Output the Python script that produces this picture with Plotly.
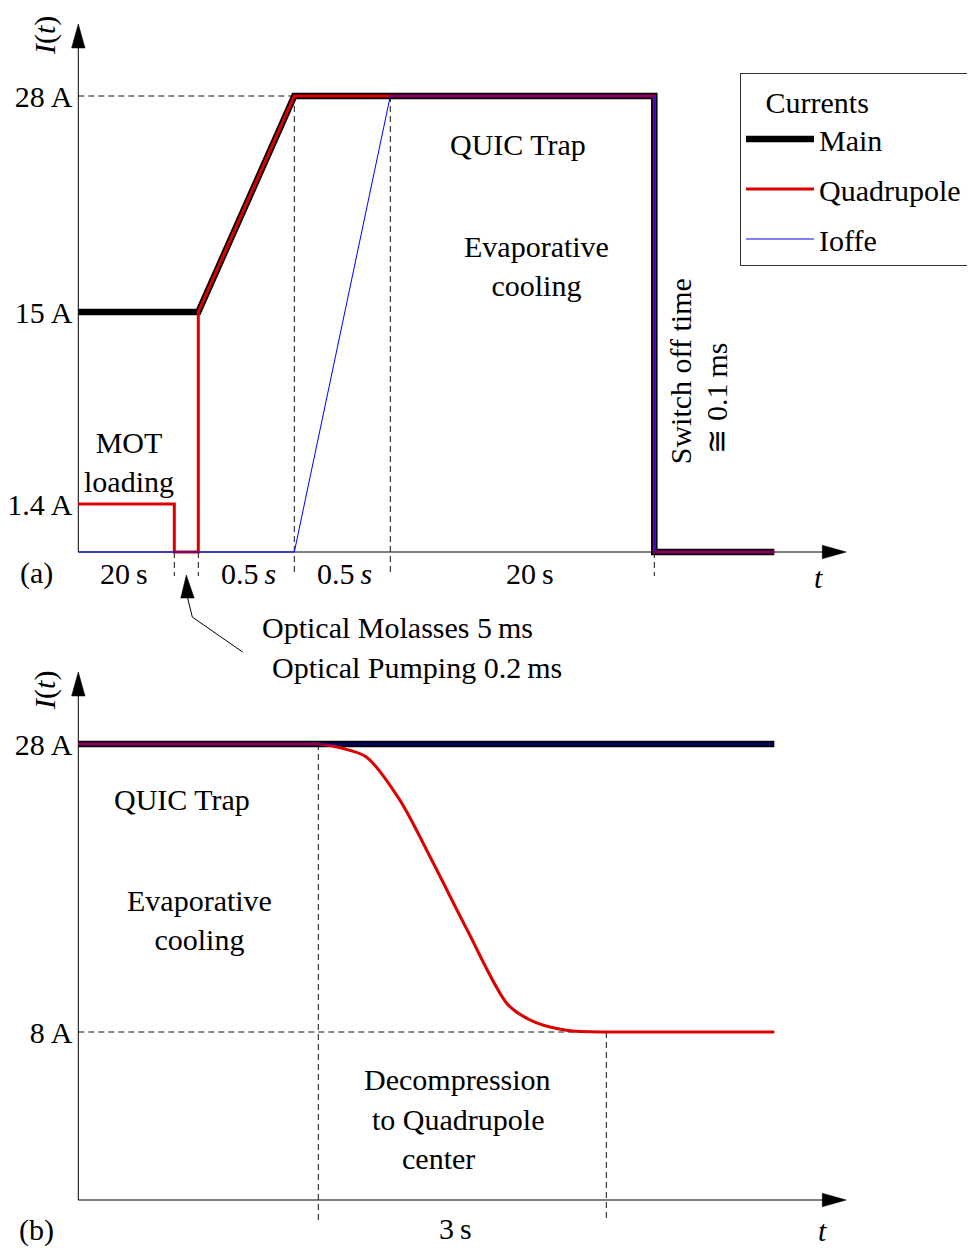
import numpy as np
import plotly.graph_objects as go

# ---------------- data ----------------
# schematic time axis (grid units), currents in A
# Panel (a): loading sequence
t_main_a = [0, 5, 9, 24, 24, 29]
i_main_a = [15, 15, 28, 28, 0, 0]
t_quad_a = [0, 4, 4, 5, 5, 9, 24, 24, 29]
i_quad_a = [1.4, 1.4, 0, 0, 15, 28, 28, 0, 0]
t_ioffe_a = [0, 9, 13, 24, 24, 29]
i_ioffe_a = [0, 0, 28, 28, 0, 0]

# Panel (b): decompression
t_main_b = [0, 29]
i_main_b = [28, 28]
t_quad_b = [0, 9.5, 10, 11, 12, 13.4, 14.8, 16.2, 17.9, 19, 20.4, 22, 22.5, 29]
i_quad_b = [28, 28, 28, 27.7, 27.1, 24.1, 19.7, 15.1, 9.9, 8.7, 8.1, 8.0, 8.0, 8.0]
t_ioffe_b = [0, 29]
i_ioffe_b = [28, 28]

ticks_a = [28, 15, 1.4]
ticks_b = [28, 8]
phase_labels_a = ["20\u2009s", "0.5\u2009<i>s</i>", "0.5\u2009<i>s</i>", "20\u2009s"]

# schematic (non-linear) current scales: current -> axis position
SCALE_A = ([0, 1.4, 15, 28], [0, 2, 10, 19])
SCALE_B = ([0, 8, 28], [0, 7, 19])


def to_axis(cur, scale):
    return np.interp(cur, scale[0], scale[1])


# ---------------- styling / geometry ----------------
FONT = "Liberation Serif"
FS = 30
PAGE_W, PAGE_H = 975, 1250
PAD = 8                      # default body margin of the html page
W, H = PAGE_W - PAD, PAGE_H - PAD
UNIT = 24.0                  # px per grid unit
OX = 78.3                    # page px of origin (x)
OYA, OYB = 552.0, 1200.0     # page px of the two time axes
X_END, Y_END = 32, 22
HEAD_LEN, HEAD_HW = 1.0, 0.28
RED = "rgb(222,0,0)"
BLUE = "rgb(0,0,255)"
DASH = "6px,4px"
DCOL = "#111111"


def px_x(p):
    return (p - PAD) / W


def px_y(p):
    return 1 - (p - PAD) / H


fig = go.Figure()

series = [
    ("Main", "black", 6.5, "main", t_main_a, i_main_a, t_main_b, i_main_b, "linear"),
    ("Quadrupole", RED, 3, "quad", t_quad_a, i_quad_a, t_quad_b, i_quad_b, "spline"),
    ("Ioffe", BLUE, 1, "ioffe", t_ioffe_a, i_ioffe_a, t_ioffe_b, i_ioffe_b, "linear"),
]
for name, col, w, grp, ta, ia, tb, ib, shp in series:
    fig.add_trace(go.Scatter(x=ta, y=to_axis(ia, SCALE_A), mode="lines", name=name,
                             legendgroup=grp, line=dict(color=col, width=w),
                             xaxis="x", yaxis="y"))
for name, col, w, grp, ta, ia, tb, ib, shp in series:
    fig.add_trace(go.Scatter(x=tb, y=to_axis(ib, SCALE_B), mode="lines", name=name,
                             legendgroup=grp, showlegend=False,
                             line=dict(color=col, width=w, shape=shp, smoothing=0.8),
                             xaxis="x2", yaxis="y2"))

shapes = []
for xr, yr in (("x", "y"), ("x2", "y2")):
    # axes with arrow heads
    shapes.append(dict(type="line", xref=xr, yref=yr, x0=0, y0=0, x1=X_END - 0.2, y1=0,
                       line=dict(color="black", width=1), layer="below"))
    shapes.append(dict(type="line", xref=xr, yref=yr, x0=0, y0=0, x1=0, y1=Y_END - 0.2,
                       line=dict(color="black", width=1), layer="below"))
    shapes.append(dict(type="path", xref=xr, yref=yr,
                       path=f"M{X_END},0 L{X_END-HEAD_LEN},{HEAD_HW} L{X_END-HEAD_LEN},{-HEAD_HW} Z",
                       fillcolor="black", line=dict(color="black", width=0.5)))
    shapes.append(dict(type="path", xref=xr, yref=yr,
                       path=f"M0,{Y_END} L{HEAD_HW},{Y_END-HEAD_LEN} L{-HEAD_HW},{Y_END-HEAD_LEN} Z",
                       fillcolor="black", line=dict(color="black", width=0.5)))


def dline(xr, yr, x0, y0, x1, y1):
    shapes.append(dict(type="line", xref=xr, yref=yr, x0=x0, y0=y0, x1=x1, y1=y1,
                       line=dict(color=DCOL, width=1, dash=DASH), layer="below"))


ya28 = float(to_axis(28, SCALE_A))
dline("x", "y", 0, ya28, t_main_a[2], ya28)
dline("x", "y", t_main_a[2], ya28, t_main_a[2], -1)
dline("x", "y", t_ioffe_a[2], ya28, t_ioffe_a[2], -1)
dline("x", "y", t_quad_a[1], 0, t_quad_a[1], -1)
dline("x", "y", t_quad_a[3], 0, t_quad_a[3], -1)
dline("x", "y", t_main_a[3], 0, t_main_a[3], -1)

yb28 = float(to_axis(28, SCALE_B))
yb8 = float(to_axis(8, SCALE_B))
dline("x2", "y2", 0, yb8, 22, yb8)
dline("x2", "y2", 10, yb28, 10, -1)
dline("x2", "y2", 22, yb8, 22, -0.75)

# pointer to optical molasses / pumping phase
tip_x = (t_quad_a[1] + t_quad_a[3]) / 2
shapes.append(dict(type="path", xref="x", yref="y",
                   path=f"M6.85,-4.17 L4.75,-2.71 L{tip_x+0.05},-1.9",
                   line=dict(color="black", width=1)))
shapes.append(dict(type="path", xref="x", yref="y",
                   path=f"M{tip_x},-0.96 L{tip_x+0.05+HEAD_HW},-1.92 L{tip_x+0.05-HEAD_HW},-1.92 Z",
                   fillcolor="black", line=dict(color="black", width=0.5)))

ann = []


def txt(xr, yr, x, y, text, angle=0, size=FS):
    ann.append(dict(xref=xr, yref=yr, x=x, y=y, text=text, showarrow=False,
                    textangle=angle, font=dict(family=FONT, size=size, color="black")))


# panel (a)
for lab, xc in zip(phase_labels_a, [1.9, 7.1, 11.1, 18.8]):
    txt("x", "y", xc, -0.875, lab)
txt("x", "y", 30.83, -1.08, "<i>t</i>")
txt("x", "y", -1.76, -0.875, "(a)")
txt("x", "y", -1.39, 21.54, "<i>I</i>(<i>t</i>)", angle=-90)
txt("x", "y", 2.1, 3.77, "MOT<br>loading")
txt("x", "y", 18.33, 16.96, "QUIC Trap")
txt("x", "y", 19.1, 11.92, "Evaporative<br>cooling")
txt("x", "y", 25.08, 7.54, "Switch off time", angle=-90)
txt("x", "y", 26.6, 6.42, "\u2245 0.1\u2009ms", angle=-90)
txt("x", "y", 13.32, -3.125, "Optical Molasses 5\u2009ms")
txt("x", "y", 14.11, -4.83, "Optical Pumping 0.2\u2009ms")

# panel (b)
txt("x2", "y2", -1.39, 21.25, "<i>I</i>(<i>t</i>)", angle=-90)
txt("x2", "y2", 4.32, 16.67, "QUIC Trap")
txt("x2", "y2", 5.07, 11.67, "Evaporative<br>cooling")
txt("x2", "y2", 15.78, 5.04, "Decompression")
txt("x2", "y2", 15.82, 3.375, "to Quadrupole")
txt("x2", "y2", 15.0, 1.75, "center")
txt("x2", "y2", 15.7, -1.17, "3\u2009s")
txt("x2", "y2", 30.99, -1.25, "<i>t</i>")
txt("x2", "y2", -1.76, -1.25, "(b)")

x_range = [-(OX - PAD) / UNIT, (PAGE_W - OX) / UNIT]
ya_dom = [px_y(700), 1]
yb_dom = [0, px_y(600)]
ya_range = [-(700 - OYA) / UNIT, (OYA - PAD) / UNIT]
yb_range = [-(PAGE_H - OYB) / UNIT, (OYB - 600) / UNIT]

yax_common = dict(anchor="free", position=px_x(OX), showgrid=False, zeroline=False,
                  showline=False, ticks="", ticklabelstandoff=6,
                  tickfont=dict(family=FONT, size=FS, color="black"))

fig.update_layout(
    width=W, height=H,
    margin=dict(l=0, r=0, t=0, b=0, autoexpand=False),
    paper_bgcolor="white", plot_bgcolor="rgba(0,0,0,0)",
    xaxis=dict(domain=[0, 1], range=x_range, visible=False, anchor="y"),
    xaxis2=dict(domain=[0, 1], range=x_range, visible=False, anchor="y2"),
    yaxis=dict(domain=ya_dom, range=ya_range,
               tickvals=list(to_axis(ticks_a, SCALE_A)),
               ticktext=[f"{v:g}\u2009A" for v in ticks_a], **yax_common),
    yaxis2=dict(domain=yb_dom, range=yb_range,
                tickvals=list(to_axis(ticks_b, SCALE_B)),
                ticktext=[f"{v:g}\u2009A" for v in ticks_b], **yax_common),
    shapes=shapes,
    annotations=ann,
    showlegend=True,
    legend=dict(x=px_x(740), y=px_y(73), xanchor="left", yanchor="top",
                bordercolor="#333333", borderwidth=1, bgcolor="white",
                font=dict(family=FONT, size=FS, color="black"),
                title=dict(text="\u00a0\u00a0\u00a0Currents" + "\u00a0" * 13,
                           font=dict(family=FONT, size=FS, color="black")),
                tracegroupgap=8, itemwidth=68),
)

fig.write_html("out.html")
